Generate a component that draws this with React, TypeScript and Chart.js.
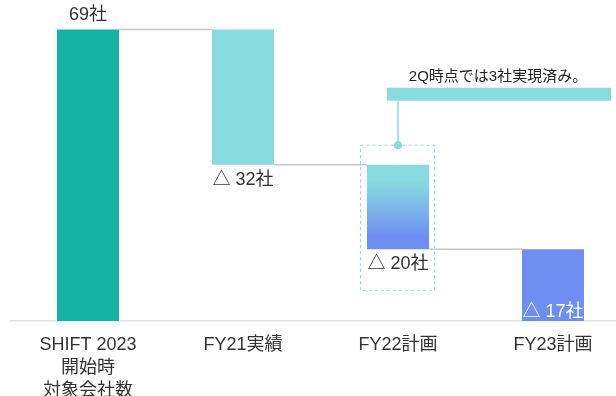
import React, { useEffect, useRef } from "react";
import { Chart, registerables } from "chart.js";

Chart.register(...registerables);

const categories: (string | string[])[] = [
  ["SHIFT 2023", "開始時", "対象会社数"],
  "FY21実績",
  "FY22計画",
  "FY23計画",
];
const startValues = [0, 37, 17, 0];
const endValues = [69, 69, 37, 17];
const valueLabels = ["69社", "△ 32社", "△ 20社", "△ 17社"];
const annotationText = "2Q時点では3社実現済み。";
const annotatedIndex = 2;

const TEAL = "#15b3a6";
const CYAN = "#88dbde";
const BLUE = "#6e8ef2";
const barColors = [TEAL, CYAN, "gradient", BLUE];
const FONT = '"Liberation Sans", Arial, "Noto Sans CJK JP", sans-serif';

const overlayPlugin = {
  id: "waterfallOverlay",
  beforeDatasetsDraw(chart: any) {
    const ctx = chart.ctx;
    const meta = chart.getDatasetMeta(0);
    const y = chart.scales.y;
    ctx.save();
    ctx.strokeStyle = "#c8c8c8";
    ctx.lineWidth = 1.5;
    for (let i = 0; i < meta.data.length - 1; i++) {
      const a = meta.data[i];
      const b = meta.data[i + 1];
      const level = i === 0 ? endValues[0] : startValues[i];
      const py = y.getPixelForValue(level);
      ctx.beginPath();
      ctx.moveTo(a.x + a.width / 2, py);
      ctx.lineTo(b.x - b.width / 2, py);
      ctx.stroke();
    }
    ctx.restore();
  },
  afterDatasetsDraw(chart: any) {
    const ctx = chart.ctx;
    const meta = chart.getDatasetMeta(0);
    const y = chart.scales.y;
    ctx.save();
    ctx.font = `18px ${FONT}`;
    ctx.textAlign = "center";
    ctx.textBaseline = "middle";
    meta.data.forEach((bar: any, i: number) => {
      const top = y.getPixelForValue(endValues[i]);
      const bottom = y.getPixelForValue(startValues[i]);
      if (i === 0) {
        ctx.fillStyle = "#333333";
        ctx.fillText(valueLabels[i], bar.x, top - 15);
      } else if (i === meta.data.length - 1) {
        ctx.fillStyle = "#ffffff";
        ctx.fillText(valueLabels[i], bar.x, bottom - 9);
      } else {
        ctx.fillStyle = "#333333";
        ctx.fillText(valueLabels[i], bar.x, bottom + 15);
      }
    });

    // annotation around FY22 bar
    const bar = meta.data[annotatedIndex];
    const top = y.getPixelForValue(endValues[annotatedIndex]);
    const bottom = y.getPixelForValue(startValues[annotatedIndex]);
    const bx0 = bar.x - 38;
    const bx1 = bar.x + 36;
    const by0 = top - 20;
    const by1 = bottom + 41;
    ctx.strokeStyle = CYAN;
    ctx.lineWidth = 1;
    ctx.setLineDash([3, 3]);
    ctx.strokeRect(bx0 + 0.5, by0 + 0.5, bx1 - bx0, by1 - by0);
    ctx.setLineDash([]);
    ctx.fillStyle = CYAN;
    ctx.beginPath();
    ctx.arc(bar.x, by0 + 0.5, 4, 0, Math.PI * 2);
    ctx.fill();
    const bandTop = by0 - 57;
    ctx.lineWidth = 1.5;
    ctx.beginPath();
    ctx.moveTo(bar.x, by0);
    ctx.lineTo(bar.x, bandTop + 13);
    ctx.stroke();
    ctx.fillRect(bar.x - 11, bandTop, 224, 13);
    ctx.fillStyle = "#222222";
    ctx.font = `15px ${FONT}`;
    ctx.fillText(annotationText, bar.x + 100, bandTop - 11);
    ctx.restore();
  },
};

export default function App() {
  const ref = useRef<HTMLCanvasElement>(null);
  useEffect(() => {
    if (!ref.current) return;
    const chart = new Chart(ref.current, {
      type: "bar",
      data: {
        labels: categories,
        datasets: [
          {
            data: startValues.map((s, i) => [s, endValues[i]]) as any,
            backgroundColor: (c: any) => {
              const i = c.dataIndex;
              if (barColors[i] !== "gradient") return barColors[i];
              const ch = c.chart;
              const ys = ch.scales.y;
              if (!ys) return CYAN;
              const y0 = ys.getPixelForValue(endValues[i]);
              const y1 = ys.getPixelForValue(startValues[i]);
              const g = ch.ctx.createLinearGradient(0, y0, 0, y1);
              g.addColorStop(0, CYAN);
              g.addColorStop(0.2, CYAN);
              g.addColorStop(0.85, BLUE);
              g.addColorStop(1, BLUE);
              return g;
            },
            borderWidth: 0,
            borderSkipped: false,
            categoryPercentage: 1,
            barPercentage: 0.4,
          },
        ],
      },
      options: {
        animation: false,
        responsive: false,
        maintainAspectRatio: false,
        layout: { padding: { left: 10.5, right: 9.5, top: 0, bottom: 0 } },
        plugins: {
          legend: { display: false },
          tooltip: { enabled: false },
        },
        scales: {
          x: {
            grid: { display: false },
            border: { display: true, color: "#e2e2e2", width: 1.5 },
            ticks: {
              color: "#333333",
              font: { family: FONT, size: 18, lineHeight: 1.3 },
              padding: 4,
              maxRotation: 0,
              autoSkip: false,
            },
            afterFit: (scale: any) => {
              scale.height = 75;
            },
          },
          y: { display: false, min: 0, max: 76 },
        },
      },
      plugins: [overlayPlugin],
    });
    return () => chart.destroy();
  }, []);
  return (
    <div style={{ position: "absolute", left: 0, top: 0, width: 616, height: 396, overflow: "hidden", background: "#fff" }}>
      <canvas ref={ref} width={640} height={396} style={{ width: 640, height: 396, display: "block" }} />
    </div>
  );
}
